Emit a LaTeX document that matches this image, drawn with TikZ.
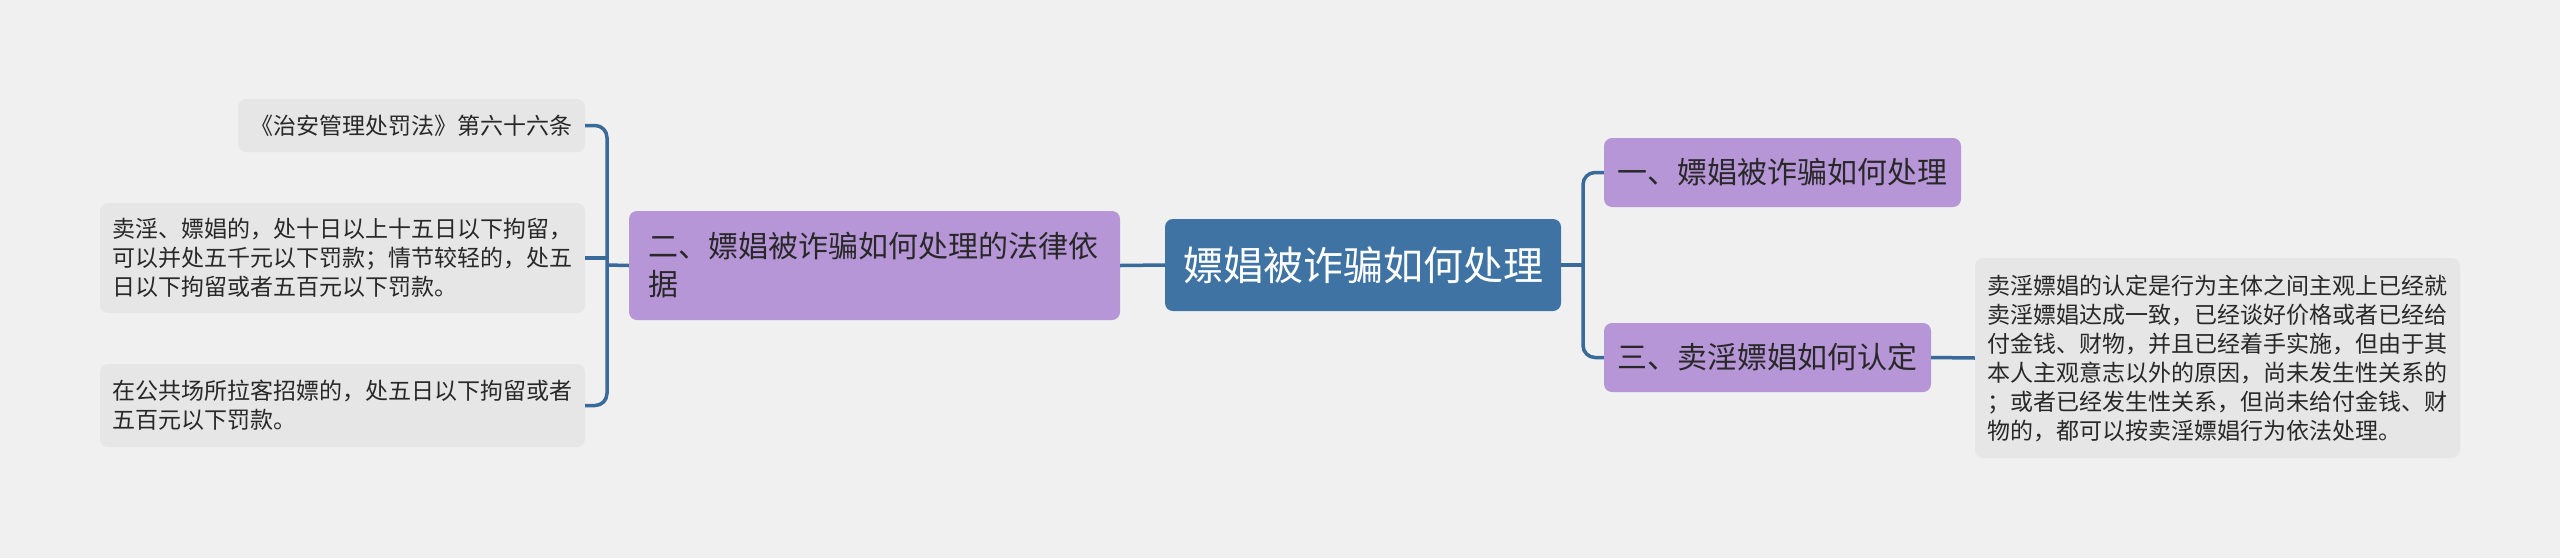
\documentclass[tikz,border=0pt]{standalone}
\usepackage{fontspec}
\setmainfont{Noto Sans CJK SC}
\definecolor{bgc}{RGB}{240,240,240}
\definecolor{rootc}{RGB}{62,115,164}
\definecolor{purpc}{RGB}{183,150,216}
\definecolor{leafc}{RGB}{230,230,230}
\definecolor{linec}{RGB}{58,106,153}
\definecolor{txtc}{RGB}{40,40,40}
\begin{document}
\begin{tikzpicture}[x=1pt,y=-1pt,
  box/.style={rounded corners=8pt, inner sep=0pt, anchor=center},
  rootbox/.style={box, fill=rootc, text=white, font=\fontsize{40}{48}\selectfont},
  lvlbox/.style={box, fill=purpc, text=txtc, font=\fontsize{30}{38}\selectfont, align=left},
  leafbox/.style={box, fill=leafc, text=txtc, font=\fontsize{23}{29}\selectfont, align=left},
  conn/.style={draw=linec, line width=3.5pt}
]
\fill[bgc] (0,0) rectangle (2560,558);
\useasboundingbox (0,0) rectangle (2560,558);

\node[rootbox, minimum width=396pt, minimum height=92pt] (root) at (1363,265) {嫖娼被诈骗如何处理};

\node[lvlbox, minimum width=491pt, minimum height=109pt, text width=452pt] (n2) at (874.5,265.5)
  {二、嫖娼被诈骗如何处理的法律依\\据};
\node[lvlbox, minimum width=357pt, minimum height=69pt] (n1) at (1782.5,172.5) {一、嫖娼被诈骗如何处理};
\node[lvlbox, minimum width=327pt, minimum height=69pt] (n3) at (1767.5,357.5) {三、卖淫嫖娼如何认定};

\node[leafbox, minimum width=347pt, minimum height=53pt] (L1) at (411.5,125.5) {《治安管理处罚法》第六十六条};
\node[leafbox, minimum width=485pt, minimum height=110pt] (L2) at (342.5,258)
  {卖淫、嫖娼的，处十日以上十五日以下拘留，\\可以并处五千元以下罚款；情节较轻的，处五\\日以下拘留或者五百元以下罚款。};
\node[leafbox, minimum width=485pt, minimum height=83pt, text width=461pt] (L3) at (342.5,405.5)
  {在公共场所拉客招嫖的，处五日以下拘留或者\\五百元以下罚款。};

\node[leafbox, minimum width=485pt, minimum height=200pt] (R) at (2217.5,358)
  {卖淫嫖娼的认定是行为主体之间主观上已经就\\卖淫嫖娼达成一致，已经谈好价格或者已经给\\付金钱、财物，并且已经着手实施，但由于其\\本人主观意志以外的原因，尚未发生性关系的\\；或者已经发生性关系，但尚未给付金钱、财\\物的，都可以按卖淫嫖娼行为依法处理。};

\coordinate (bl) at (607,265);
\coordinate (br) at (1583,265);

\draw[conn] (root.west) -- (n2.east);
\draw[conn] (n2.west) -- (bl);
\draw[conn, rounded corners=12pt] (L1.east) -| (bl);
\draw[conn, rounded corners=12pt] (L3.east) -| (bl);
\draw[conn] (L2.east) -- (bl |- L2.east);

\draw[conn] (root.east) -- (br);
\draw[conn, rounded corners=12pt] (n1.west) -| (br);
\draw[conn, rounded corners=12pt] (n3.west) -| (br);
\draw[conn] (n3.east) -- (R.west);
\end{tikzpicture}
\end{document}
